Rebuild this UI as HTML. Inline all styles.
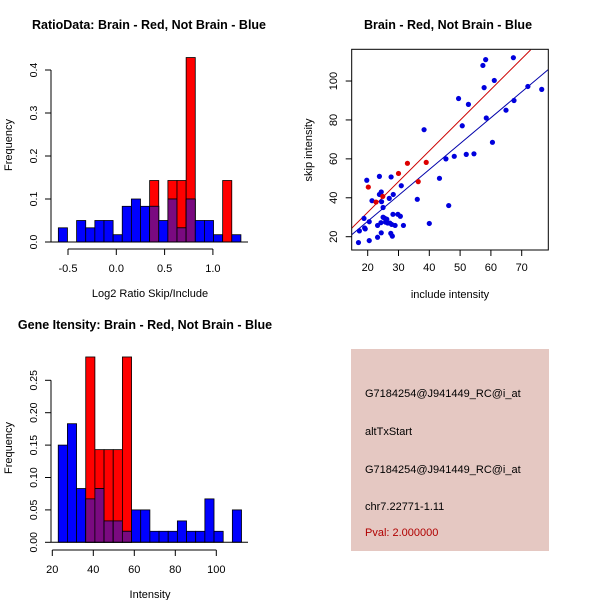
<!DOCTYPE html>
<html><head><meta charset="utf-8"><style>
body{margin:0;background:#fff}
svg{display:block;font-family:"Liberation Sans",Arial,sans-serif}
</style></head><body>
<svg id="s" width="600" height="600" xmlns="http://www.w3.org/2000/svg">
<g id="g1"></g>
<g id="g2"></g>
<g id="g3"></g>
<g id="g4">
<rect x="351" y="349" width="198" height="202" fill="#e5c8c2"/>
<text x="365" y="397" font-size="11">G7184254@J941449_RC@i_at</text>
<text x="365" y="435" font-size="11">altTxStart</text>
<text x="365" y="473" font-size="11">G7184254@J941449_RC@i_at</text>
<text x="365" y="510" font-size="11">chr7.22771-1.11</text>
<text x="365" y="536" font-size="11" fill="#b00000">Pval: 2.000000</text>
</g>
</svg>
<script>
// Ratio histogram data
const ratioBinStart = -0.6;
const ratioBinWidth = 0.0945;
const ratioBlue = [0.033,0,0.05,0.033,0.05,0.05,0.017,0.083,0.1,0.083,0.083,0.05,0.1,0.033,0.1,0.05,0.05,0.017,0,0.017];
const ratioRed = [0,0,0,0,0,0,0,0,0,0,0.143,0,0.143,0.143,0.429,0,0,0,0.143,0];
const ratioXTicks = [-0.5,0,0.5,1.0];
const ratioXTickLabels = ["-0.5","0.0","0.5","1.0"];
const ratioYTicks = [0,0.1,0.2,0.3,0.4];
const ratioYTickLabels = ["0.0","0.1","0.2","0.3","0.4"];
// Gene intensity histogram data
const intBinStart = 22.9;
const intBinWidth = 4.47;
const intBlue = [0.15,0.183,0.083,0.067,0.083,0.033,0.033,0.017,0.05,0.05,0.017,0.017,0.017,0.033,0.017,0.017,0.067,0.017,0,0.05];
const intRed = [0,0,0,0.286,0.143,0.143,0.143,0.286,0,0,0,0,0,0,0,0,0,0,0,0];
const intXTicks = [20,40,60,80,100];
const intYTicks = [0,0.05,0.10,0.15,0.20,0.25];
const intYTickLabels = ["0.00","0.05","0.10","0.15","0.20","0.25"];
// Scatter data
const blueX = [17,17.3,19,19.2,18.8,19.7,20.5,20.5,21.4,23.2,23.2,23.8,23.8,24.4,24.5,24.4,24.3,25,25,25.5,26.2,25.8,26.5,27,27.6,27.2,27.8,28.9,27.5,28,28.2,28.3,29.8,30.6,30.9,31.6,36.1,38.3,40,43.3,45.4,46.3,48.1,49.5,50.7,52,52.7,54.5,57.4,57.8,58.3,58.5,60.5,61.1,64.9,67.3,67.5,72,76.5];
const blueY = [17,23,24.5,24,29.4,49,27.7,18,38.5,25.8,19.7,51,41.7,43,38,22,27.2,35,30,29.5,29,27.5,27,39.7,50.7,27,26.3,25.8,21.7,20.3,31.5,41.7,31.5,30.5,46.2,25.8,39.2,75,26.8,50,60,36,61.3,91,77,62.3,88,62.6,108,96.6,111,81,68.5,100.3,85,112,90,97.2,95.7];
const redX = [20.2,22.7,24.9,30,32.9,36.4,39];
const redY = [45.5,37.8,40.7,52.5,57.7,48.3,58.2];
const blueLine = [[14.8,21],[78.7,106]];
const redLine = [[14.8,24.3],[72.9,116]];
const scXTicks = [20,30,40,50,60,70];
const scYTicks = [20,40,60,80,100];

const NS="http://www.w3.org/2000/svg";
function mk(parent,tag,attrs){const e=document.createElementNS(NS,tag);for(const k in attrs)e.setAttribute(k,attrs[k]);parent.appendChild(e);return e;}
function txt(parent,x,y,s,size,extra){const t=mk(parent,'text',Object.assign({x:x,y:y,'font-size':size,'text-anchor':'middle'},extra||{}));t.textContent=s;return t;}

function hist(g,binStart,binW,blue,red,sx,sy,baseY){
  for(let i=0;i<blue.length;i++){
    const x0=sx(binStart+i*binW),x1=sx(binStart+(i+1)*binW);
    const b=blue[i],r=red[i];
    if(r>0){const e=mk(g,'rect',{x:x0,y:sy(r),width:x1-x0,height:baseY-sy(r),fill:'#ff0000',stroke:'#000','stroke-width':0.8});
      }
    if(b>0){const e=mk(g,'rect',{x:x0,y:sy(b),width:x1-x0,height:baseY-sy(b),fill:'#0000ff',stroke:'#000','stroke-width':0.8});
      }
    const m=Math.min(b,r);
    if(m>0){const e=mk(g,'rect',{x:x0,y:sy(m),width:x1-x0,height:baseY-sy(m),fill:'#7a0a80',stroke:'#000','stroke-width':0.8});
      }
  }
}

// Panel 1
(function(){
  const g=document.getElementById('g1');
  const sx=v=>116.3+(v)*96.6, sy=v=>242-v*430;
  hist(g,ratioBinStart,ratioBinWidth,ratioBlue,ratioRed,sx,sy,242);
  mk(g,'line',{x1:51,y1:242,x2:248,y2:242,stroke:'#000'});
  mk(g,'line',{x1:51,y1:sy(0),x2:51,y2:sy(0.4),stroke:'#000'});
  ratioYTicks.forEach((v,i)=>{mk(g,'line',{x1:45,y1:sy(v),x2:51,y2:sy(v),stroke:'#000'});
    const t=txt(g,37,sy(v),ratioYTickLabels[i],10.5,{transform:`rotate(-90 37 ${sy(v)})`});
    });
  mk(g,'line',{x1:sx(-0.5),y1:249,x2:sx(1),y2:249,stroke:'#000'});
  ratioXTicks.forEach((v,i)=>{mk(g,'line',{x1:sx(v),y1:249,x2:sx(v),y2:255,stroke:'#000'});
    const t=txt(g,sx(v),272,ratioXTickLabels[i],11);
    });
  let t=txt(g,149,29,'RatioData: Brain - Red, Not Brain - Blue',12.5,{'font-weight':'bold'});
  
  t=txt(g,150,297,'Log2 Ratio Skip/Include',11);
  
  t=txt(g,12,145,'Frequency',11,{transform:'rotate(-90 12 145)'});
  
})();

// Panel 3
(function(){
  const g=document.getElementById('g3');
  const sx=v=>52.3+(v-20)*2.05, sy=v=>542.3-v*648;
  hist(g,intBinStart,intBinWidth,intBlue,intRed,sx,sy,542.3);
  mk(g,'line',{x1:51,y1:542.3,x2:248,y2:542.3,stroke:'#000'});
  mk(g,'line',{x1:51,y1:sy(0),x2:51,y2:sy(0.25),stroke:'#000'});
  intYTicks.forEach((v,i)=>{mk(g,'line',{x1:45,y1:sy(v),x2:51,y2:sy(v),stroke:'#000'});
    const t=txt(g,37,sy(v),intYTickLabels[i],10.5,{transform:`rotate(-90 37 ${sy(v)})`});
    });
  mk(g,'line',{x1:sx(20),y1:550,x2:sx(100),y2:550,stroke:'#000'});
  intXTicks.forEach(v=>{mk(g,'line',{x1:sx(v),y1:550,x2:sx(v),y2:556,stroke:'#000'});
    const t=txt(g,sx(v),573,String(v),11);
    });
  let t=txt(g,145,329,'Gene Itensity: Brain - Red, Not Brain - Blue',12.5,{'font-weight':'bold'});
  
  t=txt(g,150,598,'Intensity',11);
  
  t=txt(g,12,448,'Frequency',11,{transform:'rotate(-90 12 448)'});
  
})();

// Panel 2
(function(){
  const g=document.getElementById('g2');
  const sx=v=>367.7+(v-20)*3.08, sy=v=>236.7-(v-20)*1.946;
  const L=351.7,R=548.3,T=49.3,B=250;
  const clip=mk(g,'clipPath',{id:'cp'});mk(clip,'rect',{x:L,y:T,width:R-L,height:B-T});
  const pl=mk(g,'g',{'clip-path':'url(#cp)'});
  let e=mk(pl,'line',{x1:sx(redLine[0][0]),y1:sy(redLine[0][1]),x2:sx(redLine[1][0]),y2:sy(redLine[1][1]),stroke:'#cc0000','stroke-width':1});
  
  e=mk(pl,'line',{x1:sx(blueLine[0][0]),y1:sy(blueLine[0][1]),x2:sx(blueLine[1][0]),y2:sy(blueLine[1][1]),stroke:'#0000aa','stroke-width':1});
  
  blueX.forEach((x,i)=>{const c=mk(pl,'circle',{cx:sx(x),cy:sy(blueY[i]),r:2.6,fill:'#0000dd'});
    });
  redX.forEach((x,i)=>{const c=mk(pl,'circle',{cx:sx(x),cy:sy(redY[i]),r:2.6,fill:'#dd0000'});
    });
  mk(g,'rect',{x:L,y:T,width:R-L,height:B-T,fill:'none',stroke:'#000'});
  scXTicks.forEach(v=>{mk(g,'line',{x1:sx(v),y1:B,x2:sx(v),y2:B+6,stroke:'#000'});
    const t=txt(g,sx(v),271,String(v),11);
    });
  scYTicks.forEach(v=>{mk(g,'line',{x1:L-6,y1:sy(v),x2:L,y2:sy(v),stroke:'#000'});
    const t=txt(g,337,sy(v),String(v),11,{transform:`rotate(-90 337 ${sy(v)})`});
    });
  let t=txt(g,448,29,'Brain - Red, Not Brain - Blue',12.5,{'font-weight':'bold'});
  
  t=txt(g,450,298,'include intensity',11);
  
  t=txt(g,312,150,'skip intensity',11,{transform:'rotate(-90 312 150)'});
  
})();
</script>
</body></html>
